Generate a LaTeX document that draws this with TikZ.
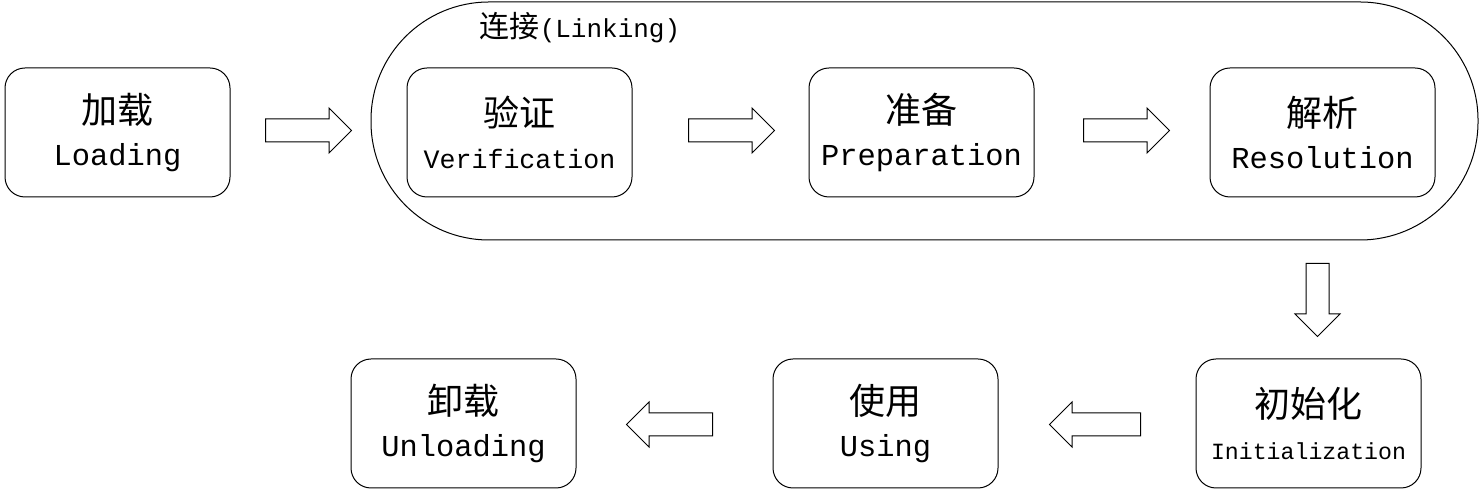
\documentclass[tikz,border=0pt]{standalone}
\usepackage{fontspec}
\setmainfont{Liberation Mono}
\newfontfamily\cjk{Noto Sans CJK SC}
\usetikzlibrary{shapes.arrows}

\tikzset{
  stagebox/.style={draw, rounded corners=10pt, minimum width=112.5pt, minimum height=64.5pt,
    align=center, line width=0.5pt, font=\fontsize{15.2}{21}\selectfont},
  blockarrow/.style={draw, single arrow, single arrow head extend=5.5pt, minimum height=43pt,
    text height=5.5pt, text depth=5.5pt, inner sep=0pt, line width=0.5pt, anchor=tail},
}
\newcommand{\zh}[1]{{\cjk\fontsize{18}{18}\selectfont #1}}

\begin{document}
\begin{tikzpicture}[x=0.5pt, y=-0.5pt]
    \useasboundingbox (0,0) rectangle (1482,490);

    % the linking phase
    \node[draw, rounded corners=59pt, minimum width=553.5pt, minimum height=119pt, line width=0.5pt] (link) at (924.5,121) {};
    \node[font=\fontsize{13}{15}\selectfont] (linklabel) at (580,28) {{\cjk\fontsize{15}{15}\selectfont 连接}(Linking)};

    \node[stagebox] (load) at (117.5,132.5) {\zh{加载}\\Loading};
    \node[stagebox, font=\fontsize{13.3}{21}\selectfont] (verify) at (519.5,132.5) {\zh{验证}\\Verification};
    \node[stagebox] (prepare) at (921.5,132.5) {\zh{准备}\\Preparation};
    \node[stagebox] (resolve) at (1322.5,132.5) {\zh{解析}\\Resolution};

    \node[stagebox, font=\fontsize{11.6}{21}\selectfont] (init) at (1308.5,423.5) {\zh{初始化}\\Initialization};
    \node[stagebox] (use) at (885.5,423.5) {\zh{使用}\\Using};
    \node[stagebox] (unload) at (463.5,423.5) {\zh{卸载}\\Unloading};

    % arrows between the stages
    \node[blockarrow] (a1) at (265,130.5) {};
    \node[blockarrow] (a2) at (688,130.5) {};
    \node[blockarrow] (a3) at (1083,130.5) {};
    \node[blockarrow, minimum height=36.5pt, rotate=270] (a4) at (1317.5,263) {};
    \node[blockarrow, minimum height=45.5pt, rotate=180] (a5) at (1141,424.5) {};
    \node[blockarrow, rotate=180] (a6) at (713,424.5) {};
\end{tikzpicture}
\end{document}
